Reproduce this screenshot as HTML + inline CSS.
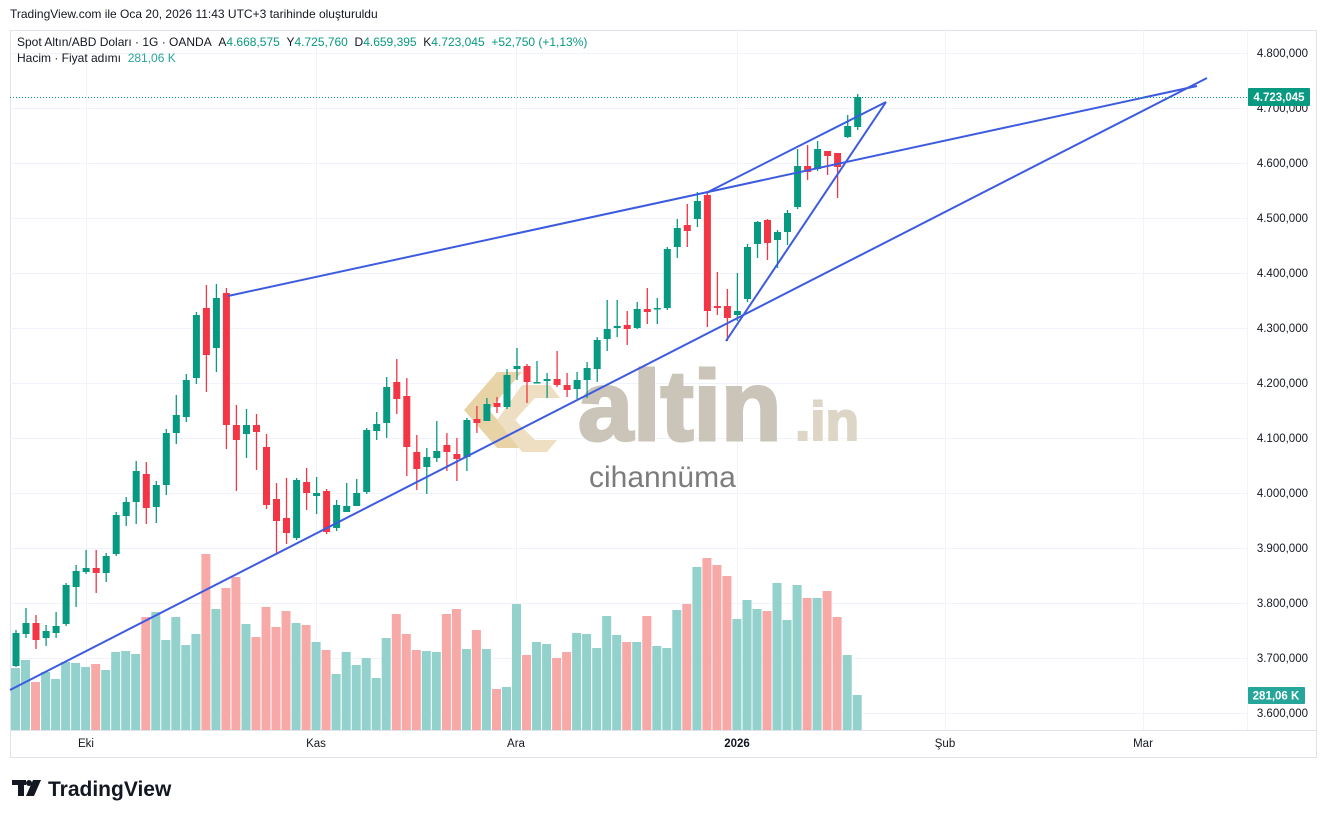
<!DOCTYPE html>
<html><head><meta charset="utf-8"><style>
body{margin:0;background:#fff;width:1327px;height:818px;overflow:hidden;font-family:"Liberation Sans","DejaVu Sans",sans-serif;}
svg{position:absolute;left:0;top:0}
</style></head><body>
<svg id="s" width="1327" height="818" xmlns="http://www.w3.org/2000/svg" font-family="Liberation Sans, DejaVu Sans, sans-serif"></svg>
<script>
const C=[
[633,666,630,667,1],[623,634,608,638,1],[623,640,615,649,0],[631,638,625,646,1],[626,633,612,638,1],
[585,624,583,626,1],[571,587,565,607,1],[568,572,550,574,1],[568,573,550,593,0],[556,573,553,582,1],
[515,554,512,556,1],[502,516,497,526,1],[471,502,461,524,1],[474,508,462,524,0],[485,507,481,523,1],
[433,485,429,495,1],[415,433,395,444,1],[380,417,374,422,1],[315,378,312,384,1],[308,355,285,392,0],
[298,348,284,372,1],[293,425,288,449,0],[425,440,405,491,0],[425,434,409,458,1],[425,432,414,470,0],
[447,505,434,509,0],[499,521,483,553,0],[518,533,478,544,0],[480,538,478,540,1],[482,493,468,510,0],
[493,496,477,514,1],[491,532,489,534,0],[505,528,500,531,1],[506,512,483,512,1],[493,506,479,506,1],
[430,492,428,494,1],[424,431,412,440,1],[387,423,377,438,1],[382,399,359,414,0],[396,447,378,476,0],
[452,469,435,490,0],[457,467,448,494,1],[451,458,421,462,1],[445,452,433,471,0],[454,459,438,481,0],
[420,457,418,471,1],[419,423,406,433,0],[404,421,398,421,1],[403,407,397,413,0],[375,407,369,409,1],
[366,369,348,380,1],[366,382,364,403,0],[382,383,361,383,1],[379,381,373,398,1],[379,385,351,387,0],
[385,390,373,397,0],[380,389,372,399,1],[368,380,362,398,1],[340,369,337,382,1],[329,339,300,351,1],
[326,328,300,337,1],[325,329,311,345,0],[309,328,302,329,1],[309,312,288,324,0],[308,309,298,324,1],
[249,308,247,310,1],[228,247,219,258,1],[225,231,204,247,0],[201,219,192,227,1],[195,311,193,327,0],
[306,308,272,315,0],[306,318,289,341,0],[311,315,273,321,1],[247,299,244,302,1],[222,244,221,258,1],
[220,243,219,260,0],[232,240,230,268,1],[213,232,210,245,1],[166,207,149,209,1],[166,172,145,180,0],
[149,169,141,171,1],[151,156,151,175,0],[153,167,153,198,0],[126,137,115,138,1],[97,127,94,130,1]];
const V=[668,660,682,672,679,662,663,667,664,670,652,651,654,617,612,640,617,645,634,554,609,588,577,624,637,607,627,611,
623,625,642,650,674,652,665,658,678,638,614,634,650,651,652,614,609,649,630,649,689,687,604,655,642,644,658,652,
633,634,648,616,635,642,642,616,646,648,610,604,567,558,565,576,619,600,609,611,583,620,585,598,598,591,617,655,695];
const Vc=[1,1,0,1,1,1,1,1,0,1,1,1,1,0,1,1,1,1,1,0,1,0,0,1,0,0,0,0,
1,0,1,0,1,1,1,1,1,1,0,0,0,1,1,0,0,1,0,1,0,1,1,0,1,1,0,0,
1,1,1,1,1,0,1,0,1,1,1,0,1,0,0,0,1,1,1,0,1,1,1,0,1,0,0,1,1];
let h='';
h+='<rect x="10.5" y="30.5" width="1306" height="727" fill="none" stroke="#e0e3eb"/>';
h+='<line x1="10" y1="730.5" x2="1316" y2="730.5" stroke="#e0e3eb"/>';
h+='<line x1="1247.5" y1="30" x2="1247.5" y2="730" stroke="#f0f3fa"/>';
const labels=['4.800,000','4.700,000','4.600,000','4.500,000','4.400,000','4.300,000','4.200,000','4.100,000','4.000,000','3.900,000','3.800,000','3.700,000','3.600,000'];
for(let i=0;i<13;i++){const y=53+i*55;h+=`<line x1="10" y1="${y+.5}" x2="1247" y2="${y+.5}" stroke="#f0f3fa"/>`;
h+=`<text x="1308" y="${y+4}" font-size="11.5" fill="#131722" text-anchor="end">${labels[i]}</text>`;}
[[86,'Eki'],[316,'Kas'],[516,'Ara'],[737,'2026'],[945,'Şub'],[1143,'Mar']].forEach(([x,t])=>{
h+=`<line x1="${x+.5}" y1="30" x2="${x+.5}" y2="730" stroke="#f0f3fa"/>`;
h+=`<text x="${x}" y="747" font-size="11.5" fill="#131722" text-anchor="middle" ${t=='2026'?'font-weight="bold"':''}>${t}</text>`;});
V.forEach((t,i)=>{const x=11+i*10.02;h+=`<rect x="${x.toFixed(1)}" y="${t}" width="9" height="${730-t}" fill="${Vc[i]?'#92d1cc':'#f7a9a7'}"/>`;});
h+='<g opacity="0.9"><polygon points="497,372 522,372 489,410 522,448 497,448 464,410" fill="#e6cf9e"/><polygon points="522,385 550,385 560,398 535,398 515,420 535,440 557,440 547,452 522,452 497,420" fill="#eddcbc"/></g>';
h+='<text x="578" y="440" font-size="99" font-weight="bold" fill="#cbc4b8" stroke="#cbc4b8" stroke-width="3">altin</text>';
h+='<text x="795" y="440" font-size="55" font-weight="bold" fill="#ddd6c6" stroke="#ddd6c6" stroke-width="2">.in</text>';
h+='<text x="589" y="487" font-size="30" fill="#7c7c7c">cihannüma</text>';
C.forEach((c,i)=>{const x=16+i*10.02;const col=c[4]?'#089981':'#f23645';const t=Math.min(c[0],c[1]),b=Math.max(c[0],c[1]);
h+=`<line x1="${x.toFixed(1)}" y1="${c[2]}" x2="${x.toFixed(1)}" y2="${c[3]}" stroke="${col}" stroke-width="1.3"/>`;
h+=`<rect x="${(x-3.5).toFixed(1)}" y="${t}" width="7" height="${Math.max(b-t,1.5)}" fill="${col}"/>`;});
const L=[[10,690,1207,78],[228,296,1197,86],[706,193,886,102],[726,341,886,102]];
L.forEach(l=>h+=`<line x1="${l[0]}" y1="${l[1]}" x2="${l[2]}" y2="${l[3]}" stroke="#3d5be0" stroke-width="2"/>`);
h+='<line x1="10" y1="97.5" x2="1247" y2="97.5" stroke="#089981" stroke-dasharray="1,2"/>';
h+='<rect x="1248" y="88" width="62" height="18" rx="1" fill="#089981"/><text x="1279" y="101" font-size="11.5" font-weight="bold" fill="#fff" text-anchor="middle">4.723,045</text>';
h+='<rect x="1248" y="687" width="57" height="17" rx="1" fill="#26a69a"/><text x="1276" y="699.5" font-size="11.5" font-weight="bold" fill="#fff" text-anchor="middle">281,06 K</text>';
h+='<text x="10" y="18" font-size="12" fill="#131722">TradingView.com ile Oca 20, 2026 11:43 UTC+3 tarihinde oluşturuldu</text>';
h+='<text x="17" y="46" font-size="12" fill="#131722">Spot Altın/ABD Doları · 1G · OANDA&#160;&#160;A<tspan fill="#089981">4.668,575</tspan>&#160;&#160;Y<tspan fill="#089981">4.725,760</tspan>&#160;&#160;D<tspan fill="#089981">4.659,395</tspan>&#160;&#160;K<tspan fill="#089981">4.723,045</tspan>&#160;&#160;<tspan fill="#089981">+52,750 (+1,13%)</tspan></text>';
h+='<text x="17" y="62" font-size="12" fill="#131722">Hacim · Fiyat adımı&#160;&#160;<tspan fill="#26a69a">281,06 K</tspan></text>';
h+='<g fill="#131722"><rect x="12" y="780" width="14" height="5"/><rect x="18" y="780" width="6" height="16"/><circle cx="29" cy="783" r="3"/><polygon points="33,780 41,780 34,796 26,796"/></g>';
h+='<text x="48" y="796" font-size="21" font-weight="bold" fill="#131722">TradingView</text>';
document.getElementById('s').innerHTML=h;
</script>
</body></html>
